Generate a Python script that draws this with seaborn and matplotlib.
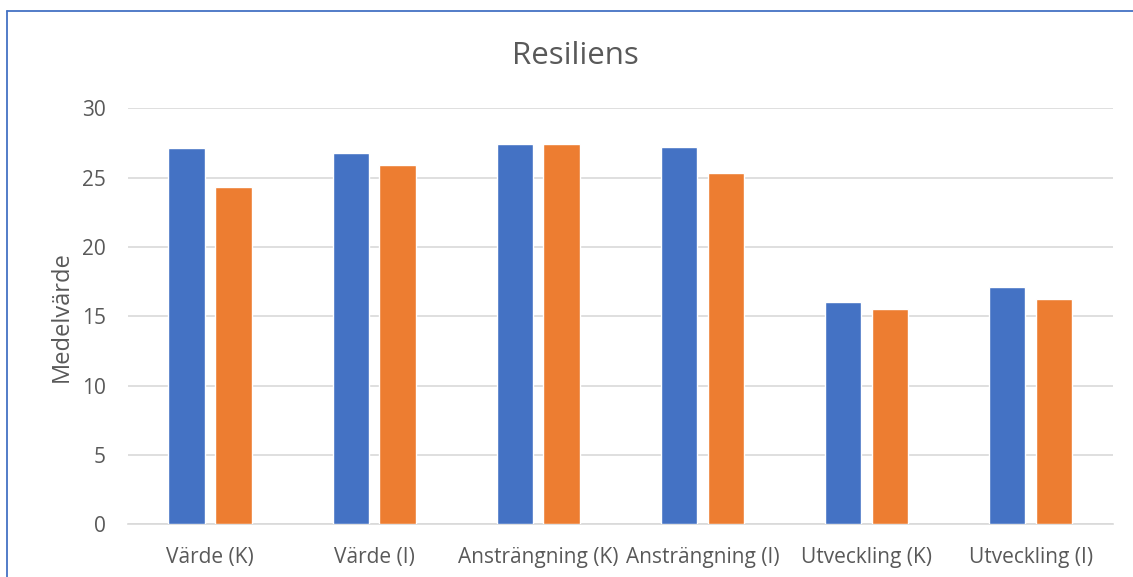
import matplotlib
matplotlib.use("Agg")
import matplotlib.pyplot as plt
from matplotlib.lines import Line2D
import seaborn as sns
import pandas as pd

categories = ["Värde (K)", "Värde (I)", "Ansträngning (K)", "Ansträngning (I)",
              "Utveckling (K)", "Utveckling (I)"]
series_names = ["Serie 1", "Serie 2"]
series1 = [27.15, 26.77, 27.42, 27.20, 16.05, 17.09]
series2 = [24.30, 25.93, 27.42, 25.35, 15.52, 16.24]
y_ticks = [0, 5, 10, 15, 20, 25, 30]

df = pd.DataFrame({
    "kategori": categories * 2,
    "serie": [series_names[0]] * len(categories) + [series_names[1]] * len(categories),
    "medelvarde": series1 + series2,
})

sns.set_theme(style="white")
plt.rcParams["font.family"] = ["Open Sans", "DejaVu Sans"]

text_color = "#595959"
grid_color = "#D9D9D9"
palette = {series_names[0]: "#4472C4", series_names[1]: "#ED7D31"}

W, H = 1133, 577
fig = plt.figure(figsize=(W / 100, H / 100), dpi=100)
fig.patch.set_facecolor("white")
ax = fig.add_axes([128 / W, 1 - 524.3 / H, (1112.7 - 128) / W, (524.3 - 108.3) / H])

sns.barplot(data=df, x="kategori", y="medelvarde", hue="serie", order=categories,
            hue_order=series_names, palette=palette, width=0.57, gap=0.22,
            saturation=1, legend=False, ax=ax, zorder=3)

ax.set_ylim(0, 30)
ax.set_xlim(-0.5, len(categories) - 0.5)
ax.set_yticks(y_ticks)
ax.set_yticklabels([str(t) for t in y_ticks])
ax.yaxis.grid(True, color=grid_color, linewidth=1.2, zorder=0)
ax.xaxis.grid(False)
for side in ["top", "right", "left"]:
    ax.spines[side].set_visible(False)
ax.spines["bottom"].set_color(grid_color)
ax.spines["bottom"].set_linewidth(1.2)
ax.tick_params(axis="both", length=0, colors=text_color, labelsize=15)
ax.tick_params(axis="y", pad=16)
ax.tick_params(axis="x", pad=16)
ax.set_xlabel("")
ax.set_ylabel("Medelvärde", fontsize=17, color=text_color, labelpad=6)
# title centred on the whole chart area rather than on the plot area
ax.set_title("Resiliens", fontsize=22.5, color=text_color, pad=32,
             x=(575 - 128) / (1112.7 - 128))

# chart frame
frame = "#4472C4"
fig.add_artist(Line2D([6.7 / W, 6.7 / W], [0, 1 - 10.7 / H], transform=fig.transFigure,
                      color=frame, linewidth=1.3))
fig.add_artist(Line2D([6.7 / W, 1], [1 - 10.7 / H, 1 - 10.7 / H], transform=fig.transFigure,
                      color=frame, linewidth=1.3))

fig.savefig("out.png", dpi=100, facecolor="white")
